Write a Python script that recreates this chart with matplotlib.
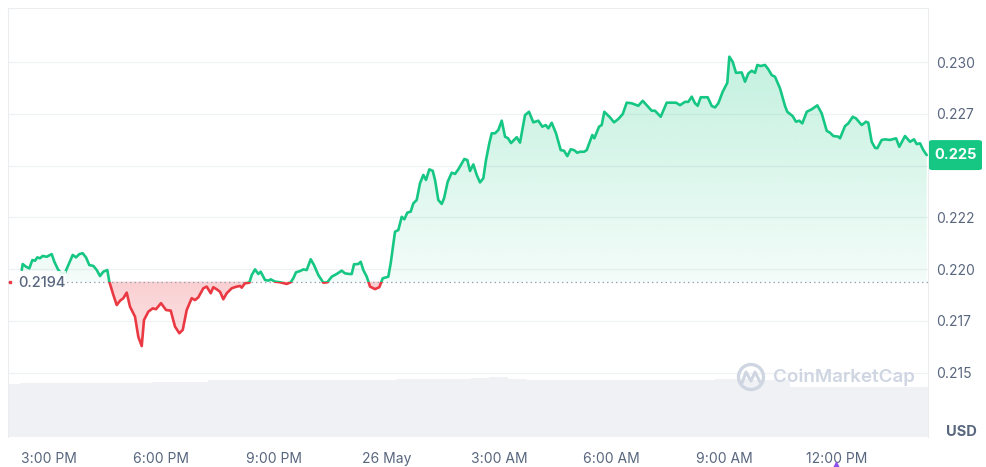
import numpy as np
import matplotlib
matplotlib.use("Agg")
import matplotlib.pyplot as plt
from matplotlib.patches import Rectangle, FancyBboxPatch, Circle
from matplotlib.path import Path
from matplotlib.lines import Line2D
import matplotlib.colors as mcolors

plt.rcParams['font.family'] = ['Inter', 'DejaVu Sans']

# ---------------- data ----------------
# hours relative to 26 May 00:00
hours = [-9.717, -9.691, -9.603, -9.515, -9.435, -9.363, -9.302, -9.230, -9.158, -9.051,
         -8.918, -8.848, -8.742, -8.651, -8.563, -8.475, -8.358, -8.270, -8.182, -8.092,
         -8.004, -7.916, -7.809, -7.718, -7.631, -7.543, -7.436, -7.383, -7.276, -7.185,
         -7.097, -7.009, -6.919, -6.831, -6.698, -6.610, -6.519, -6.458, -6.343, -6.226,
         -6.138, -6.005, -5.871, -5.746, -5.632, -5.517, -5.426, -5.320, -5.187, -5.099,
         -5.011, -4.877, -4.787, -4.680, -4.611, -4.520, -4.432, -4.344, -4.254, -4.120,
         -3.987, -3.899, -3.854, -3.766, -3.651, -3.587, -3.499, -3.411, -3.348, -3.233,
         -3.145, -3.081, -2.966, -2.833, -2.655, -2.548, -2.479, -2.407, -2.300, -2.212,
         -2.122, -2.015, -1.927, -1.812, -1.679, -1.572, -1.455, -1.322, -1.189, -1.101,
         -0.986, -0.922, -0.861, -0.746, -0.682, -0.613, -0.522, -0.434, -0.301, -0.187,
         -0.096, 0.053, 0.117, 0.232, 0.320, 0.410, 0.480, 0.560, 0.650, 0.720,
         0.810, 0.898, 0.986, 1.058, 1.146, 1.237, 1.298, 1.386, 1.477, 1.538,
         1.636, 1.743, 1.831, 1.919, 2.079, 2.159, 2.231, 2.319, 2.409, 2.497,
         2.585, 2.657, 2.745, 2.809, 2.897, 2.985, 3.076, 3.164, 3.244, 3.324,
         3.475, 3.563, 3.697, 3.803, 3.918, 4.051, 4.158, 4.248, 4.318, 4.408,
         4.523, 4.648, 4.736, 4.824, 4.915, 5.003, 5.091, 5.162, 5.269, 5.341,
         5.490, 5.544, 5.669, 5.741, 5.810, 5.962, 6.069, 6.183, 6.301, 6.407,
         6.540, 6.716, 6.834, 6.940, 7.073, 7.161, 7.313, 7.473, 7.721, 7.828,
         7.961, 8.049, 8.140, 8.227, 8.299, 8.379, 8.566, 8.673, 8.761, 8.848,
         8.966, 9.088, 9.142, 9.232, 9.320, 9.472, 9.560, 9.648, 9.739, 9.827,
         9.888, 9.978, 10.093, 10.181, 10.272, 10.360, 10.493, 10.626, 10.687, 10.831,
         10.919, 11.007, 11.087, 11.205, 11.338, 11.487, 11.604, 11.738, 11.826, 11.913,
         12.047, 12.092, 12.225, 12.313, 12.431, 12.518, 12.670, 12.785, 12.846, 12.937,
         13.025, 13.086, 13.203, 13.291, 13.425, 13.585, 13.672, 13.824, 13.958, 14.064,
         14.136, 14.224, 14.312, 14.403]

prices = [0.21996, 0.22025, 0.22012, 0.22004, 0.22044, 0.22041, 0.22057, 0.22053, 0.22064, 0.22060,
          0.22073, 0.22036, 0.21996, 0.21980, 0.21983, 0.22020, 0.22069, 0.22057, 0.22073, 0.22077,
          0.22057, 0.22020, 0.22016, 0.21996, 0.21967, 0.21988, 0.21996, 0.21940, 0.21876, 0.21827,
          0.21848, 0.21860, 0.21887, 0.21819, 0.21771, 0.21674, 0.21629, 0.21755, 0.21795, 0.21811,
          0.21807, 0.21836, 0.21803, 0.21800, 0.21723, 0.21691, 0.21707, 0.21803, 0.21860, 0.21851,
          0.21864, 0.21908, 0.21916, 0.21884, 0.21913, 0.21903, 0.21891, 0.21855, 0.21884, 0.21908,
          0.21916, 0.21919, 0.21911, 0.21932, 0.21935, 0.21972, 0.21999, 0.21977, 0.21988, 0.21948,
          0.21945, 0.21951, 0.21940, 0.21937, 0.21929, 0.21937, 0.21956, 0.21985, 0.21991, 0.21999,
          0.21996, 0.22048, 0.22020, 0.21972, 0.21935, 0.21937, 0.21964, 0.21977, 0.21993, 0.21980,
          0.21977, 0.21977, 0.22024, 0.22025, 0.22036, 0.21996, 0.21964, 0.21916, 0.21904, 0.21913,
          0.21956, 0.21964, 0.22029, 0.22181, 0.22189, 0.22253, 0.22241, 0.22273, 0.22278, 0.22318,
          0.22334, 0.22415, 0.22455, 0.22431, 0.22482, 0.22475, 0.22431, 0.22334, 0.22315, 0.22342,
          0.22422, 0.22466, 0.22460, 0.22482, 0.22532, 0.22527, 0.22474, 0.22506, 0.22455, 0.22419,
          0.22439, 0.22527, 0.22608, 0.22656, 0.22656, 0.22672, 0.22717, 0.22640, 0.22632, 0.22609,
          0.22637, 0.22611, 0.22744, 0.22760, 0.22709, 0.22717, 0.22688, 0.22696, 0.22680, 0.22707,
          0.22656, 0.22575, 0.22572, 0.22546, 0.22579, 0.22575, 0.22562, 0.22567, 0.22567, 0.22575,
          0.22648, 0.22632, 0.22688, 0.22696, 0.22760, 0.22733, 0.22709, 0.22725, 0.22749, 0.22804,
          0.22801, 0.22789, 0.22813, 0.22792, 0.22765, 0.22765, 0.22736, 0.22804, 0.22804, 0.22792,
          0.22808, 0.22808, 0.22833, 0.22801, 0.22789, 0.22830, 0.22830, 0.22788, 0.22781, 0.22801,
          0.22857, 0.22900, 0.23026, 0.23001, 0.22948, 0.22950, 0.22905, 0.22945, 0.22958, 0.22948,
          0.22986, 0.22981, 0.22986, 0.22965, 0.22937, 0.22929, 0.22873, 0.22788, 0.22760, 0.22739,
          0.22712, 0.22717, 0.22704, 0.22760, 0.22772, 0.22791, 0.22752, 0.22668, 0.22659, 0.22643,
          0.22640, 0.22632, 0.22691, 0.22704, 0.22736, 0.22728, 0.22696, 0.22712, 0.22707, 0.22615,
          0.22586, 0.22584, 0.22624, 0.22627, 0.22624, 0.22632, 0.22591, 0.22643, 0.22615, 0.22627,
          0.22604, 0.22608, 0.22575, 0.22551]

ref_price = 0.2194
ref_label = "0.2194"
last_price_label = "0.225"

# 24h rolling volume (arbitrary units), half-hour steps
vol_hours = np.arange(-10.0, 15.0, 0.5)
volumes = [4.90, 4.99, 4.99, 4.99, 4.99, 4.99, 5.08, 5.02, 5.13, 5.13,
           5.13, 5.36, 5.36, 5.36, 5.36, 5.36, 5.36, 5.36, 5.36, 5.36,
           5.36, 5.45, 5.45, 5.45, 5.45, 5.50, 5.55, 5.41, 5.31, 5.31,
           5.31, 5.31, 5.31, 5.31, 5.31, 5.31, 5.31, 5.31, 5.45, 5.45,
           5.31, 5.31, 4.66, 4.66, 4.66, 4.66, 4.66, 4.66, 4.66, 4.66]

xtick_hours = [-9, -6, -3, 0, 3, 6, 9, 12]
xtick_labels = ["3:00 PM", "6:00 PM", "9:00 PM", "26 May", "3:00 AM", "6:00 AM", "9:00 AM", "12:00 PM"]
ytick_values = [0.215, 0.2175, 0.220, 0.2225, 0.225, 0.2275, 0.230]
ytick_labels = ["0.215", "0.217", "0.220", "0.222", "0.225", "0.227", "0.230"]

# ---------------- style ----------------
GREEN = "#16c784"
RED = "#ea3943"
TXT = "#58667e"
GRID = "#eff1f4"
W, H = 987, 467
XLIM = (-10.083, 14.437)
YLIM = (0.21190, 0.23261)

fig = plt.figure(figsize=(W / 100, H / 100), dpi=100)
fig.patch.set_facecolor("white")
rect = [8 / W, 30 / H, 920 / W, 429 / H]

# volume axes (behind)
axv = fig.add_axes(rect)
axv.bar(vol_hours, volumes, width=0.5, align="center", color="#eff1f5", linewidth=0)
axv.set_xlim(*XLIM)
axv.set_ylim(0, 40)
axv.axis("off")

# price axes
ax = fig.add_axes(rect)
ax.set_facecolor("none")
h = np.array(hours)
p = np.array(prices)


def gradient_fill(where, color, a_top, a_bot, y0, y1, z):
    coll = ax.fill_between(h, p, ref_price, where=where, interpolate=True,
                           facecolor="none", edgecolor="none")
    comp = Path.make_compound_path(*coll.get_paths())
    rgb = mcolors.to_rgb(color)
    n = 256
    img = np.zeros((n, 1, 4))
    img[:, :, :3] = rgb
    img[:, 0, 3] = np.linspace(a_top, a_bot, n)
    im = ax.imshow(img, aspect="auto", extent=[XLIM[0], XLIM[1], y0, y1],
                   origin="upper", zorder=z, interpolation="bilinear")
    im.set_clip_path(comp, ax.transData)


gradient_fill(p >= ref_price, GREEN, 0.30, 0.05, ref_price, YLIM[1], 2)
gradient_fill(p <= ref_price, RED, 0.24, 0.14, 0.2162, ref_price, 2)

green_clip = Rectangle((XLIM[0], ref_price), XLIM[1] - XLIM[0], 1.0, transform=ax.transData)
red_clip = Rectangle((XLIM[0], 0.0), XLIM[1] - XLIM[0], ref_price, transform=ax.transData)
lg, = ax.plot(h, p, color=GREEN, lw=1.9, solid_joinstyle="round", solid_capstyle="round", zorder=4)
lg.set_clip_path(green_clip)
lr, = ax.plot(h, p, color=RED, lw=1.9, solid_joinstyle="round", solid_capstyle="round", zorder=4)
lr.set_clip_path(red_clip)

# reference (open) price line
ax.axhline(ref_price, color="#9aa3b5", lw=0.9, linestyle=(0, (1.2, 2.4)), zorder=3)

ax.set_xlim(*XLIM)
ax.set_ylim(*YLIM)

# label box for the reference price
box = FancyBboxPatch((-9.976, 0.21866), 1.44, 0.00125, boxstyle="square,pad=0",
                     facecolor="white", edgecolor="none", alpha=0.88, zorder=5)
ax.add_patch(box)
ax.plot([XLIM[0] + 0.04], [ref_price], marker="s", ms=2.0, color=RED, zorder=6, clip_on=False)
ax.text(-9.81, ref_price - 0.00006, ref_label, fontsize=10.5, color=TXT, fontweight="medium",
        va="center", ha="left", zorder=6)

# axes styling
ax.set_xticks(xtick_hours)
ax.set_xticklabels(xtick_labels)
ax.set_yticks(ytick_values)
ax.set_yticklabels(ytick_labels)
ax.yaxis.tick_right()
ax.tick_params(axis="both", length=0, colors=TXT, labelsize=10)
ax.tick_params(axis="x", pad=11)
ax.tick_params(axis="y", pad=6)
ax.grid(axis="y", color=GRID, lw=0.9, zorder=0)
ax.grid(axis="x", visible=False)
for s in ["left", "top", "right"]:
    ax.spines[s].set_color("#ebedf0")
    ax.spines[s].set_linewidth(0.8)
ax.spines["bottom"].set_visible(False)

# the last-price tag sits on top of the tick label of the same value
for lab, val in zip(ax.get_yticklabels(), ytick_values):
    if abs(val - 0.225) < 1e-9:
        lab.set_visible(False)

# last price tag
fig.canvas.draw()
_, ydisp = ax.transData.transform((XLIM[1], prices[-1]))
tag_h, tag_w = 30, 53
fig.patches.append(FancyBboxPatch((929 / W, (ydisp - tag_h / 2) / H), tag_w / W, tag_h / H,
                                  boxstyle="round,pad=0,rounding_size=0.004",
                                  transform=fig.transFigure, facecolor=GREEN, edgecolor="none",
                                  zorder=10))
fig.text((929 + tag_w / 2) / W, ydisp / H, last_price_label, color="white", fontsize=10.5,
         fontweight="bold", ha="center", va="center", zorder=11)

# currency label
fig.text(961 / W, (H - 432) / H, "USD", color=TXT, fontsize=10.5, fontweight="bold",
         ha="center", va="center")

# watermark (drawn in inches so the circle stays round)
WM = "#cfd6e2"
inch = fig.dpi_scale_trans
fig.patches.append(Circle((751 / 100, (H - 377) / 100), 0.125, transform=inch,
                          fill=False, edgecolor=WM, lw=2.4, zorder=3))
fig.add_artist(Line2D([742 / 100, 746 / 100, 751 / 100, 755 / 100, 760 / 100],
                      [(H - 383) / 100, (H - 372) / 100, (H - 381) / 100, (H - 372) / 100, (H - 382) / 100],
                      transform=inch, color=WM, lw=2.2, solid_joinstyle="round",
                      solid_capstyle="round", zorder=3))
fig.text(773 / W, (H - 377) / H, "CoinMarketCap", color=WM, fontsize=13.5, fontweight="semibold",
         ha="left", va="center", zorder=3)

# small event marker under the time axis
fig.add_artist(Line2D([836.5 / W], [(H - 466) / H], transform=fig.transFigure, marker="^",
                      ms=6, color="#8c4ff0", linestyle="none"))

fig.savefig("out.png", dpi=100, facecolor="white")
